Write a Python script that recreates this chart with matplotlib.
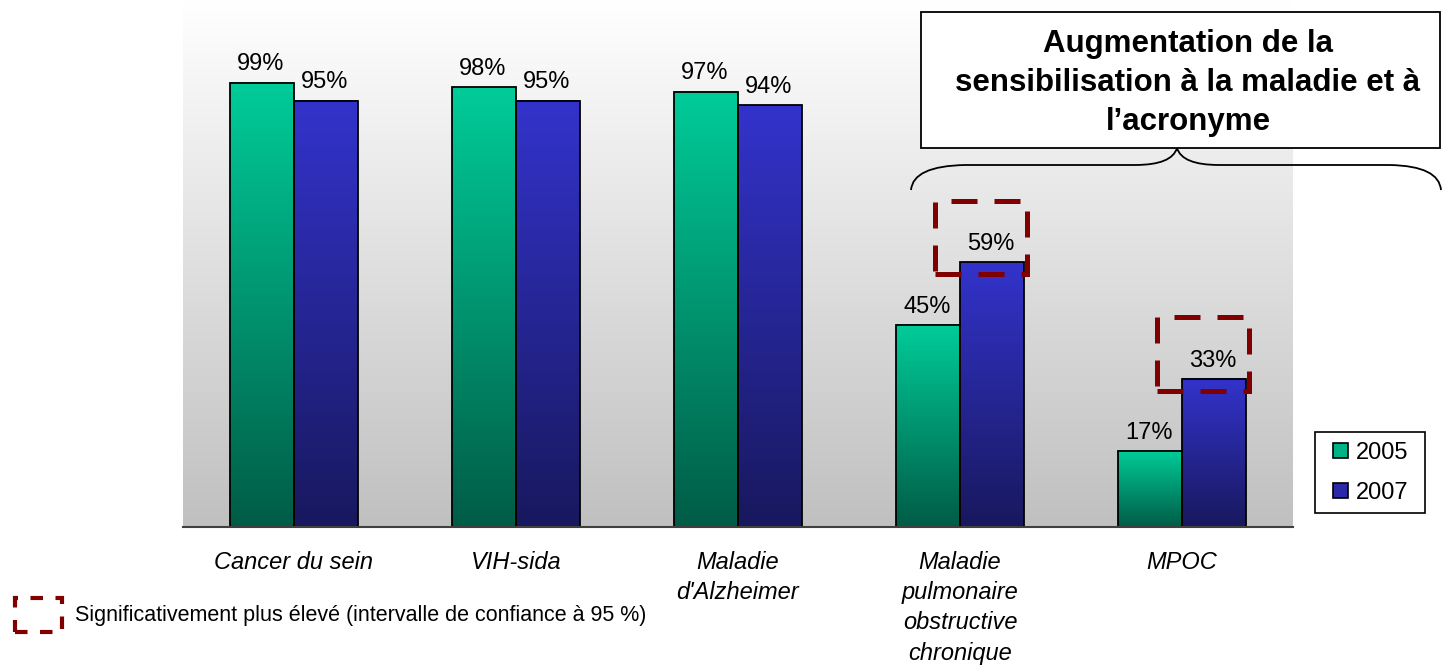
import numpy as np
import matplotlib
matplotlib.use("Agg")
import matplotlib.pyplot as plt
from matplotlib.colors import LinearSegmentedColormap
from matplotlib.patches import Rectangle, Patch, PathPatch
from matplotlib.path import Path

plt.rcParams["font.family"] = ["Liberation Sans", "DejaVu Sans"]

# Data
categories = ["Cancer du sein", "VIH-sida", "Maladie\nd'Alzheimer",
              "Maladie\npulmonaire\nobstructive\nchronique", "MPOC"]
vals_2005 = [99, 98, 97, 45, 17]
vals_2007 = [95, 95, 94, 59, 33]
series_names = ["2005", "2007"]
significant_2007 = [False, False, False, True, True]
callout_text = "Augmentation de la\nsensibilisation à la maladie et à\nl\u2019acronyme"
note_text = "Significativement plus élevé (intervalle de confiance à 95 %)"

W, H = 1444, 665
fig = plt.figure(figsize=(W / 100, H / 100), dpi=100)
ax = fig.add_axes([183 / W, 1 - 527 / H, 1110 / W, 527 / H])


def px(x, y):
    # pixel position -> figure fraction
    return x / W, 1 - y / H


# background gradient of plot area
bg = np.linspace(1, 0, 256).reshape(-1, 1)
bg_cmap = LinearSegmentedColormap.from_list("bg", ["#c0c0c0", "#ffffff"])
ax.imshow(bg, cmap=bg_cmap, extent=[0, 1, 0, 1], transform=ax.transAxes,
          aspect="auto", zorder=0, origin="upper", vmin=0, vmax=1)

green_cmap = LinearSegmentedColormap.from_list("g", ["#005c46", "#00cc99"])
blue_cmap = LinearSegmentedColormap.from_list("b", ["#18185e", "#3333cc"])

x = np.arange(len(categories))
bw = 0.288
grad = np.linspace(1, 0, 256).reshape(-1, 1)

for vals, offs, cmap in [(vals_2005, -bw / 2, green_cmap), (vals_2007, bw / 2, blue_cmap)]:
    bars = ax.bar(x + offs, vals, width=bw, facecolor="none", edgecolor="black",
                  linewidth=1.3, zorder=3)
    for b, v in zip(bars, vals):
        x0 = b.get_x()
        ax.imshow(grad, cmap=cmap, extent=[x0, x0 + bw, 0, v], aspect="auto",
                  zorder=2, origin="upper", vmin=0, vmax=1)
        ax.text(x0 + bw / 2 - 0.005, v + 2.7, f"{v}%", ha="center", va="baseline",
                fontsize=17, zorder=4)

# significance boxes
for i, sig in enumerate(significant_2007):
    if sig:
        v = vals_2007[i]
        rect = Rectangle((x[i] - 0.113, v - 2.7), bw + 0.127, 16.4, fill=False,
                         edgecolor="#800000", linewidth=3.6,
                         linestyle=(0, (5.2, 3.4)), zorder=5, clip_on=False)
        ax.add_patch(rect)

ax.set_xlim(-0.5, len(categories) - 0.5)
ax.set_ylim(0, 117.4)
ax.set_xticks(x)
ax.set_xticklabels(categories, fontsize=17, style="italic", linespacing=1.41)
ax.tick_params(axis="x", length=0, pad=17)
ax.set_yticks([])
for s in ["left", "right", "top"]:
    ax.spines[s].set_visible(False)
ax.spines["bottom"].set_color("#404040")
ax.spines["bottom"].set_linewidth(1.5)
ax.spines["bottom"].set_zorder(6)

# legend (frame drawn separately)
(lx0, ly1), (lx1, ly0) = px(1315, 432), px(1425, 513)
fig.patches.append(Rectangle((lx0, ly0), lx1 - lx0, ly1 - ly0, transform=fig.transFigure,
                             facecolor="white", edgecolor="black", linewidth=1.2))
handles = [Patch(facecolor="#00b386", edgecolor="black", linewidth=1.2),
           Patch(facecolor="#2a2aa8", edgecolor="black", linewidth=1.2)]
leg = fig.legend(handles, series_names, loc="center", bbox_to_anchor=px(1371, 473),
                 fontsize=17, frameon=False, handlelength=0.6,
                 handleheight=0.6, handletextpad=0.35, labelspacing=0.77,
                 borderpad=0, borderaxespad=0)

# callout box
(bx0, by1), (bx1, by0) = px(921, 12), px(1440, 148)
fig.patches.append(Rectangle((bx0, by0), bx1 - bx0, by1 - by0, transform=fig.transFigure,
                             facecolor="white", edgecolor="black", linewidth=1.3, zorder=5))
fig.text(*px(1188, 83), callout_text, ha="center", va="center", fontsize=22.5,
         fontweight="bold", linespacing=1.37, zorder=6)

# curly brace
pts = [(911, 190), (913, 166), (965, 165), (1135, 165), (1172, 165), (1177, 148),
       (1182, 165), (1219, 165), (1390, 165), (1439, 166), (1441, 190)]
codes = [Path.MOVETO, Path.CURVE3, Path.CURVE3, Path.LINETO, Path.CURVE3, Path.CURVE3,
         Path.CURVE3, Path.CURVE3, Path.LINETO, Path.CURVE3, Path.CURVE3]
brace = Path([px(*p) for p in pts], codes)
fig.patches.append(PathPatch(brace, transform=fig.transFigure, fill=False,
                             edgecolor="black", linewidth=1.3))

# note at bottom
(nx0, ny1), (nx1, ny0) = px(15, 598), px(62, 632)
fig.patches.append(Rectangle((nx0, ny0), nx1 - nx0, ny1 - ny0, transform=fig.transFigure,
                             fill=False, edgecolor="#800000", linewidth=3.0,
                             linestyle=(0, (3.0, 3.0))))
fig.text(*px(75, 616), note_text, ha="left", va="center", fontsize=15.5)

fig.savefig("out.png", dpi=100)
